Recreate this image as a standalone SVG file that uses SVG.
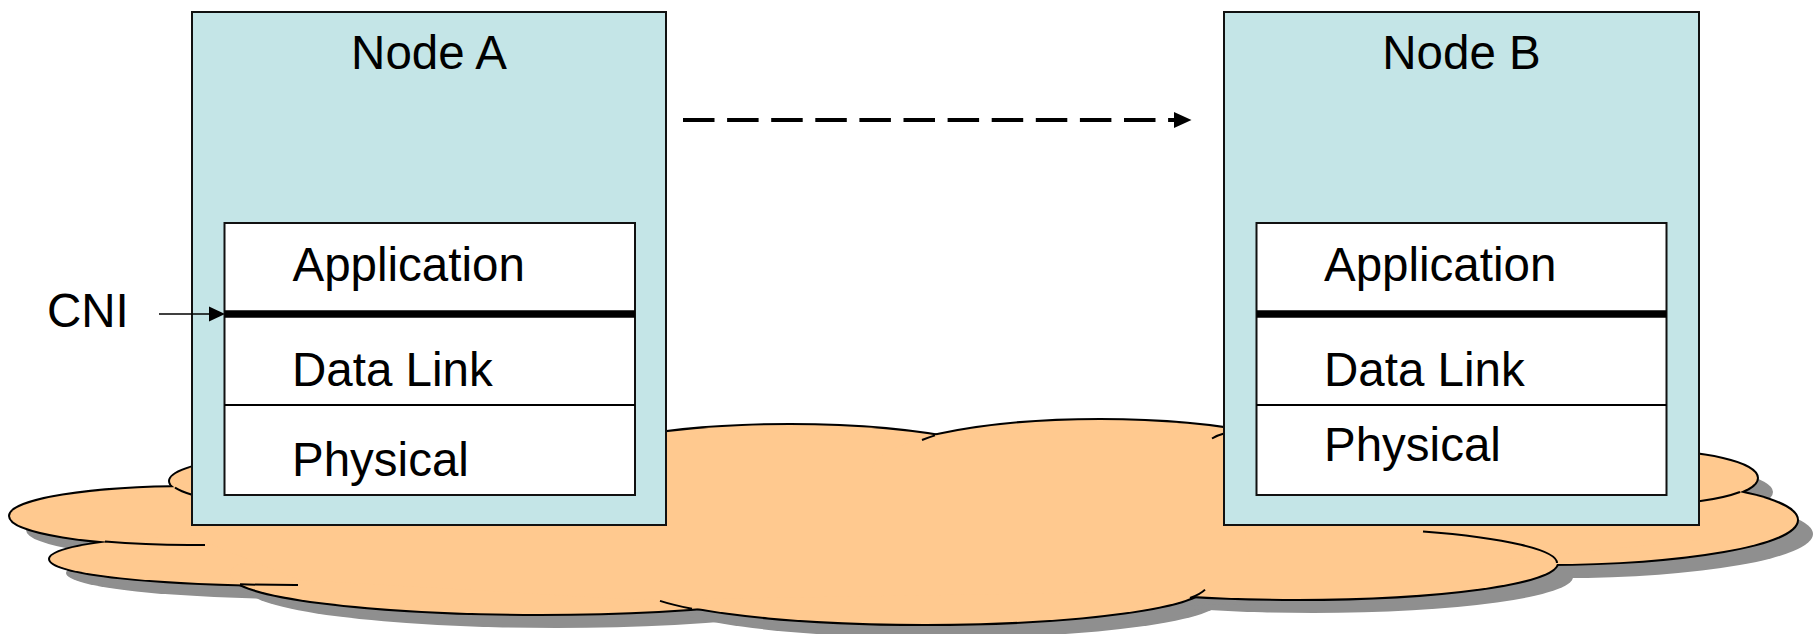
<svg xmlns="http://www.w3.org/2000/svg" width="1814" height="634" viewBox="0 0 1814 634">
  <style>
    .lbl { font-family: "Liberation Sans", Arial, sans-serif; font-size: 47.5px; fill: #000; }
    .outer { fill: #C4E5E7; stroke: #111; stroke-width: 2; }
    .inner { fill: #fff; stroke: #111; stroke-width: 2; }
    .sep { stroke: #000; stroke-width: 2; }
    .cni { stroke: #000; stroke-width: 7.5; }
    .arc { fill: none; stroke: #000; stroke-width: 2; }
  </style>
  <defs>
    <g id="lobes">
      <ellipse cx="400" cy="481" rx="230" ry="32"/>
      <ellipse cx="190" cy="516" rx="180" ry="29"/>
      <ellipse cx="290" cy="559" rx="240" ry="26"/>
      <ellipse cx="540" cy="574" rx="310" ry="40"/>
      <ellipse cx="925" cy="585" rx="282" ry="39"/>
      <ellipse cx="1297" cy="563" rx="260" ry="36"/>
      <ellipse cx="1547" cy="520" rx="250" ry="44"/>
      <ellipse cx="1640" cy="478" rx="117" ry="27"/>
      <ellipse cx="790" cy="480" rx="250" ry="55"/>
      <ellipse cx="1100" cy="470" rx="228" ry="50"/>
    </g>
    <g id="body">
      <polygon points="200,480 660,470 1250,470 1250,590 640,600 300,580 200,540"/>
      <polygon points="1240,505 1700,505 1700,540 1500,560 1250,560"/>
    </g>
  </defs>

  <g id="cloud">
    <g transform="translate(16,14)" fill="#8F8F8F">
      <use href="#lobes"/>
      <use href="#body"/>
    </g>
    <g fill="none" stroke="#000" stroke-width="4">
      <use href="#lobes"/>
    </g>
    <g fill="#FFC98F">
      <use href="#lobes"/>
      <use href="#body"/>
    </g>
    <g class="arc">
      <path d="M175,487.7 A230,32 0 0,0 192,494.7"/>
      <path d="M105,541.6 A180,29 0 0,0 205,544.9"/>
      <path d="M240,584.3 A240,26 0 0,0 298,585"/>
      <path d="M660,600.9 A282,39 0 0,0 692,608.7"/>
      <path d="M1190,598 A282,39 0 0,0 1205,589.6"/>
      <path d="M1423,531.5 A260,36 0 0,1 1557,563"/>
      <path d="M1699,501.3 A117,27 0 0,0 1740,492"/>
      <path d="M935,435.4 A228,50 0 0,0 922,440"/>
      <path d="M1224,433.5 Q1218,435 1212,438.5"/>
    </g>
  </g>

  <g id="nodeA">
    <rect class="outer" x="192" y="12" width="474" height="513"/>
    <text class="lbl" x="429" y="69" text-anchor="middle">Node A</text>
    <rect class="inner" x="224.5" y="223" width="410.5" height="272"/>
    <line class="cni" x1="224.5" y1="314" x2="635" y2="314"/>
    <line class="sep" x1="224.5" y1="405" x2="635" y2="405"/>
    <text class="lbl" x="292.5" y="281">Application</text>
    <text class="lbl" x="292" y="386">Data Link</text>
    <text class="lbl" x="292" y="476">Physical</text>
  </g>

  <g id="nodeB">
    <rect class="outer" x="1224" y="12" width="475" height="513"/>
    <text class="lbl" x="1461.5" y="69" text-anchor="middle">Node B</text>
    <rect class="inner" x="1256.5" y="223" width="410" height="272"/>
    <line class="cni" x1="1256.5" y1="314" x2="1666.5" y2="314"/>
    <line class="sep" x1="1256.5" y1="405" x2="1666.5" y2="405"/>
    <text class="lbl" x="1324" y="281">Application</text>
    <text class="lbl" x="1324" y="386">Data Link</text>
    <text class="lbl" x="1324" y="461">Physical</text>
  </g>

  <g id="cni-label">
    <text class="lbl" x="47" y="327">CNI</text>
  </g>

  <g id="connectors">
    <line x1="159" y1="314" x2="212" y2="314" stroke="#000" stroke-width="1.5"/>
    <polygon points="209,306.5 225,314 209,321.5" fill="#000"/>
    <line x1="683" y1="120" x2="1176" y2="120" stroke="#000" stroke-width="4" stroke-dasharray="31.5 12.6"/>
    <polygon points="1174,112 1191.5,120 1174,128" fill="#000"/>
  </g>
</svg>
